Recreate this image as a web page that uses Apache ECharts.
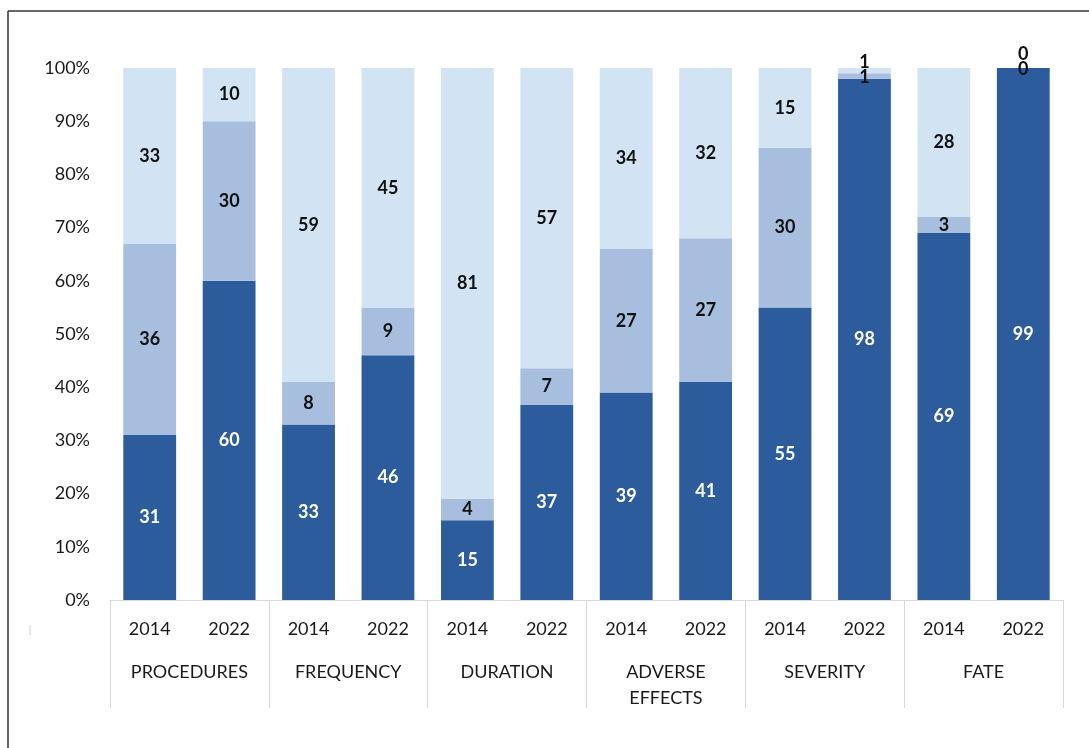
<!DOCTYPE html>
<html>
<head>
<meta charset="utf-8">
<script src="https://cdn.jsdelivr.net/npm/echarts@6/dist/echarts.min.js"></script>
<style>
  html, body { margin: 0; padding: 0; background: #fff; }
  #chart { width: 1089px; height: 748px; }
</style>
</head>
<body>
<div id="chart"></div>
<script>
// ---- data ----
const groups = ['PROCEDURES', 'FREQUENCY', 'DURATION', 'ADVERSE\nEFFECTS', 'SEVERITY', 'FATE'];
const years = ['2014', '2022'];
// bottom (dark) segment
const darkValues  = [31, 60, 33, 46, 15, 37, 39, 41, 55, 98, 69, 99];
// middle segment
const midValues   = [36, 30, 8, 9, 4, 7, 27, 27, 30, 1, 3, 0];
// top (light) segment
const lightValues = [33, 10, 59, 45, 81, 57, 34, 32, 15, 1, 28, 0];
const yTicks = [0, 10, 20, 30, 40, 50, 60, 70, 80, 90, 100];

// ---- derived ----
const yearLabels = [];
groups.forEach(() => years.forEach(y => yearLabels.push(y)));
const totals = darkValues.map((v, i) => v + midValues[i] + lightValues[i]);
const pct = arr => arr.map((v, i) => totals[i] ? v / totals[i] * 100 : 0);

// label nudges (style only)
const labelOffsets = {
  light: { 9: [0, -8], 11: [0, -14] },
  mid: { 9: [0, 1], 11: [0, 1] }
};

const FONT = 'Lato, "Open Sans", sans-serif';

function makeSeries(name, raw, color, labelColor, offsets) {
  return {
    name,
    type: 'bar',
    stack: 'all',
    xAxisIndex: 0,
    barWidth: '66.5%',
    itemStyle: { color },
    data: pct(raw).map((v, i) => {
      const item = { value: v };
      if (offsets && offsets[i]) item.label = { offset: offsets[i] };
      return item;
    }),
    label: {
      show: true,
      position: 'inside',
      color: labelColor,
      fontFamily: FONT,
      fontWeight: 'bold',
      fontSize: 18,
      formatter: p => String(raw[p.dataIndex])
    }
  };
}

const chart = echarts.init(document.getElementById('chart'), null, { renderer: 'canvas' });
chart.setOption({
  animation: false,
  backgroundColor: '#ffffff',
  grid: { left: 110, right: 26, top: 68, bottom: 148, containLabel: false },
  xAxis: [
    {
      type: 'category',
      data: yearLabels,
      position: 'bottom',
      axisLine: { show: false },
      axisTick: { show: false },
      axisLabel: { margin: 20, fontSize: 18, color: '#1a1a1a', fontFamily: FONT, interval: 0 }
    },
    {
      type: 'category',
      data: groups,
      position: 'bottom',
      axisLine: { show: true, lineStyle: { color: '#d9d9d9', width: 1 } },
      axisTick: { show: true, length: 108, lineStyle: { color: '#d9d9d9', width: 1 } },
      axisLabel: { margin: 59, fontSize: 18, lineHeight: 26, color: '#1a1a1a', fontFamily: FONT, interval: 0 }
    }
  ],
  yAxis: {
    type: 'value',
    min: 0, max: 100, interval: 10,
    axisLine: { show: false },
    axisTick: { show: false },
    splitLine: { show: false },
    axisLabel: {
      margin: 20, fontSize: 18, color: '#1a1a1a', fontFamily: FONT,
      formatter: v => (yTicks.indexOf(v) >= 0 ? v + '%' : '')
    }
  },
  series: [
    makeSeries('dark', darkValues, '#2c5c9b', '#ffffff', null),
    makeSeries('mid', midValues, '#a7bedf', '#111111', labelOffsets.mid),
    makeSeries('light', lightValues, '#d2e4f3', '#111111', labelOffsets.light)
  ],
  graphic: [
    { type: 'line', shape: { x1: 8, y1: 11, x2: 1089, y2: 11 }, style: { stroke: '#333', lineWidth: 1.5 } },
    { type: 'line', shape: { x1: 8, y1: 11, x2: 8, y2: 748 }, style: { stroke: '#333', lineWidth: 1.5 } },
    { type: 'line', shape: { x1: 30, y1: 625, x2: 30, y2: 635 }, style: { stroke: '#ccc', lineWidth: 1 } }
  ]
});
</script>
</body>
</html>
